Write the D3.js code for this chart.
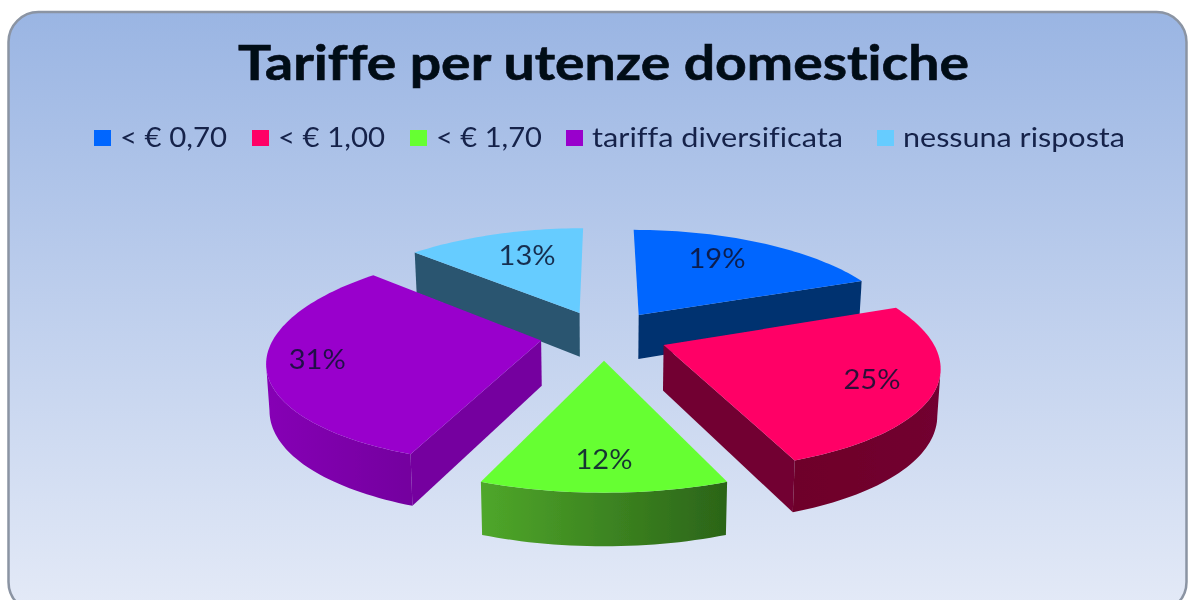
<!DOCTYPE html>
<html>
<head>
<meta charset="utf-8">
<script src="https://cdn.jsdelivr.net/npm/d3@7"></script>
<style>
  html, body { margin: 0; padding: 0; background: #fff; overflow: hidden; }
  text { font-family: Lato, "Open Sans", sans-serif; font-variant-ligatures: none; }
</style>
</head>
<body>
<div id="chart"></div>
<script>
// ─── DATA ─────────────────────────────────────────────────────────────────────
const title = "Tariffe per utenze domestiche";
const categories = ["< € 0,70", "< € 1,00", "< € 1,70", "tariffa diversificata", "nessuna risposta"];
const values = [19, 25, 12, 31, 13];

// ─── STYLE ────────────────────────────────────────────────────────────────────
const topColors  = ["#0066ff", "#ff0066", "#66ff33", "#9900cc", "#66ccff"];
const wallColors = [
  ["#00306f", "#00306f"],
  ["#6e0029", "#720030"],
  ["#4fa72a", "#2b6418"],
  ["#8600b5", "#74009f"],
  ["#295570", "#295570"],
];
const legendX     = [94, 252, 410, 566, 877];
const legendTextW = [107, 107, 106, 251, 222];
const labelRadius = [0.72, 0.78, 0.78, 0.82, 0.68];
const labelTurn   = [-5, 0, 0, 0, 3];   // degrees away from the slice's middle
const labelWidth  = 57;
const drawOrder   = [4, 0, 3, 1, 2];

const width = 1194, height = 600;

// disc projection: u to the right, v away from the viewer, radius 1
const cx = 604, cy = 335, scaleX = 266, scaleY = 103.5, perspX = 0.175, perspY = 0.15;
const depth = 45, depthPersp = 0.13, explode = 0.24;

function project(u, v, down = false) {
  const x = cx + scaleX * u / (1 + perspX * v);
  const y = cy - scaleY * v / (1 + perspY * v);
  if (!down) return [x, y];
  return [cx + (x - cx) * 0.99, y + depth / (1 + depthPersp * v)];
}

// ─── CHART ────────────────────────────────────────────────────────────────────
const svg = d3.select("#chart").append("svg")
  .attr("width", width).attr("height", height);
const defs = svg.append("defs");

defs.append("filter").attr("id", "soft")
  .attr("filterUnits", "userSpaceOnUse")
  .attr("x", 0).attr("y", 0).attr("width", width).attr("height", height)
  .append("feGaussianBlur").attr("stdDeviation", 0.5);

const root = svg.append("g").attr("filter", "url(#soft)");

const panelGrad = defs.append("linearGradient").attr("id", "panel-bg")
  .attr("x1", 0).attr("y1", 0).attr("x2", 0).attr("y2", 1);
panelGrad.append("stop").attr("offset", "0%").attr("stop-color", "#9ab5e3");
panelGrad.append("stop").attr("offset", "100%").attr("stop-color", "#e4eaf7");

root.append("rect")
  .attr("x", 8.5).attr("y", 12).attr("width", 1178).attr("height", 600)
  .attr("rx", 30).attr("ry", 30)
  .attr("fill", "url(#panel-bg)")
  .attr("stroke", "#8b94a3").attr("stroke-width", 2.5);

root.append("text")
  .attr("x", 238).attr("y", 80)
  .attr("font-size", 48).attr("font-weight", 700).attr("fill", "#050a18")
  .attr("stroke", "#050a18").attr("stroke-width", 0.6)
  .attr("textLength", 731).attr("lengthAdjust", "spacingAndGlyphs")
  .text(title);

// legend
const legend = root.append("g").attr("class", "legend");
categories.forEach((name, i) => {
  legend.append("rect")
    .attr("x", legendX[i]).attr("y", 130)
    .attr("width", 17).attr("height", 16)
    .attr("fill", topColors[i]);
  legend.append("text")
    .attr("x", legendX[i] + 26).attr("y", 147)
    .attr("font-size", 26).attr("fill", "#14224a")
    .attr("textLength", legendTextW[i]).attr("lengthAdjust", "spacingAndGlyphs")
    .text(name);
});

// slices
const arcs = d3.pie().sort(null).startAngle(0).endAngle(2 * Math.PI)(values);
const line = d3.line();
const pies = root.append("g").attr("class", "pie");

function slicePoints(d) {
  const mid = (d.startAngle + d.endAngle) / 2;
  const ox = explode * Math.sin(mid), oy = explode * Math.cos(mid);
  const n = Math.max(8, Math.round((d.endAngle - d.startAngle) * 40));
  const rim = d3.range(n + 1)
    .map(k => d.startAngle + (d.endAngle - d.startAngle) * k / n)
    .map(t => [ox + Math.sin(t), oy + Math.cos(t)]);
  return { mid, apex: [ox, oy], rim };
}

function drawFace(g, a, b, fill) {
  const pts = [project(...a), project(...b), project(...b, true), project(...a, true)];
  g.append("path").attr("d", line(pts) + "Z").attr("fill", fill);
}

drawOrder.forEach(i => {
  const d = arcs[i];
  const { mid, apex, rim } = slicePoints(d);
  const g = pies.append("g");

  // radial cut faces, only the ones turned towards the viewer
  if (Math.sin(d.startAngle) < -1e-6) drawFace(g, apex, rim[0], wallColors[i][1]);
  if (Math.sin(d.endAngle) > 1e-6) drawFace(g, apex, rim[rim.length - 1], wallColors[i][1]);

  // outer wall, front part of the rim
  const front = rim.filter((p, k) =>
    (k > 0 && project(...p)[0] < project(...rim[k - 1])[0]) ||
    (k < rim.length - 1 && project(...rim[k + 1])[0] < project(...p)[0]));
  if (front.length > 1) {
    const top = front.map(p => project(...p));
    const bottom = front.map(p => project(...p, true)).reverse();
    const gradId = `wall-${i}`;
    const xs = d3.extent(top, p => p[0]);
    const grad = defs.append("linearGradient").attr("id", gradId)
      .attr("gradientUnits", "userSpaceOnUse")
      .attr("x1", xs[0]).attr("x2", xs[1]).attr("y1", 0).attr("y2", 0);
    grad.append("stop").attr("offset", "0%").attr("stop-color", wallColors[i][0]);
    grad.append("stop").attr("offset", "100%").attr("stop-color", wallColors[i][1]);
    g.append("path").attr("d", line(top.concat(bottom)) + "Z").attr("fill", `url(#${gradId})`);
  }

  // top face
  const outline = [apex].concat(rim).map(p => project(...p));
  g.append("path").attr("d", line(outline) + "Z").attr("fill", topColors[i]);

  // label
  const r = labelRadius[i], t = mid + labelTurn[i] * Math.PI / 180;
  const [lx, ly] = project(apex[0] + r * Math.sin(t), apex[1] + r * Math.cos(t));
  g.append("text")
    .attr("x", lx).attr("y", ly + 9)
    .attr("text-anchor", "middle")
    .attr("font-size", 27).attr("fill", "#0b1330").attr("fill-opacity", 0.85)
    .attr("textLength", labelWidth).attr("lengthAdjust", "spacingAndGlyphs")
    .text(`${values[i]}%`);
});
</script>
</body>
</html>
